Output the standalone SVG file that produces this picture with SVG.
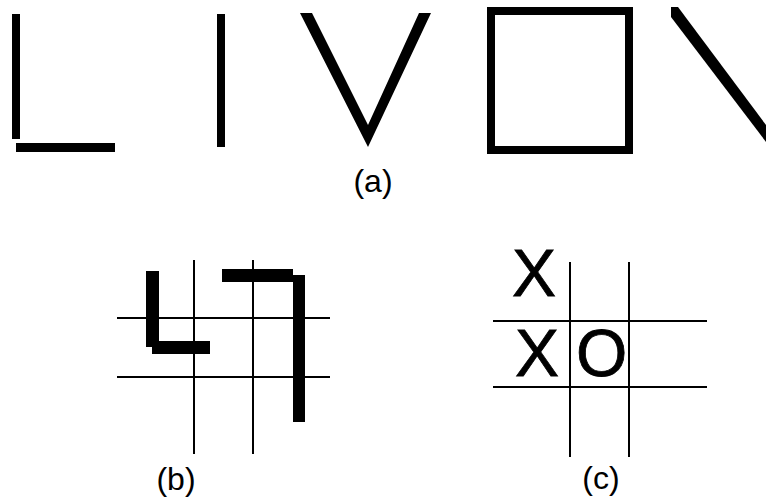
<svg xmlns="http://www.w3.org/2000/svg" width="766" height="497" viewBox="0 0 766 497">
<style>
.bar{fill:#000}
.grid{stroke:#000;stroke-width:2;fill:none}
.cap{font-family:"Liberation Sans",Arial,sans-serif;font-size:32px;fill:#000;text-anchor:middle}
.mark{font-family:"Liberation Sans",Arial,sans-serif;font-size:66px;fill:#000;stroke:#000;stroke-width:0.8}
</style>
<rect width="766" height="497" fill="#fff"/>
<g id="panel-a">
  <rect class="bar" x="12" y="14" width="8" height="125"/>
  <rect class="bar" x="16" y="143" width="99" height="9"/>
  <rect class="bar" x="217" y="14" width="8" height="133"/>
  <polygon class="bar" points="300,13 312,13 368,125 419,13 431,13 368,147"/>
  <rect x="491" y="11" width="138" height="139" fill="none" stroke="#000" stroke-width="8"/>
  <polygon class="bar" points="671,7 678,7 766,125 766,142 671,17"/>
  <text class="cap" x="373" y="192">(a)</text>
</g>
<g id="panel-b">
  <g class="grid">
    <line x1="194" y1="260" x2="194" y2="454"/>
    <line x1="253" y1="260" x2="253" y2="454"/>
    <line x1="117" y1="318" x2="330" y2="318"/>
    <line x1="117" y1="377" x2="330" y2="377"/>
  </g>
  <rect class="bar" x="146" y="271" width="13" height="76"/>
  <rect class="bar" x="152" y="341" width="58" height="13"/>
  <rect class="bar" x="222" y="269" width="71" height="13"/>
  <rect class="bar" x="293" y="275" width="12" height="147"/>
  <text class="cap" x="176" y="490">(b)</text>
</g>
<g id="panel-c">
  <g class="grid">
    <line x1="570" y1="262" x2="570" y2="457"/>
    <line x1="629" y1="262" x2="629" y2="457"/>
    <line x1="493" y1="321" x2="707" y2="321"/>
    <line x1="493" y1="387" x2="707" y2="387"/>
  </g>
  <text class="mark" x="512" y="296">X</text>
  <text class="mark" x="515" y="376">X</text>
  <text class="mark" x="576" y="376">O</text>
  <text class="cap" x="601" y="489">(c)</text>
</g>
</svg>
